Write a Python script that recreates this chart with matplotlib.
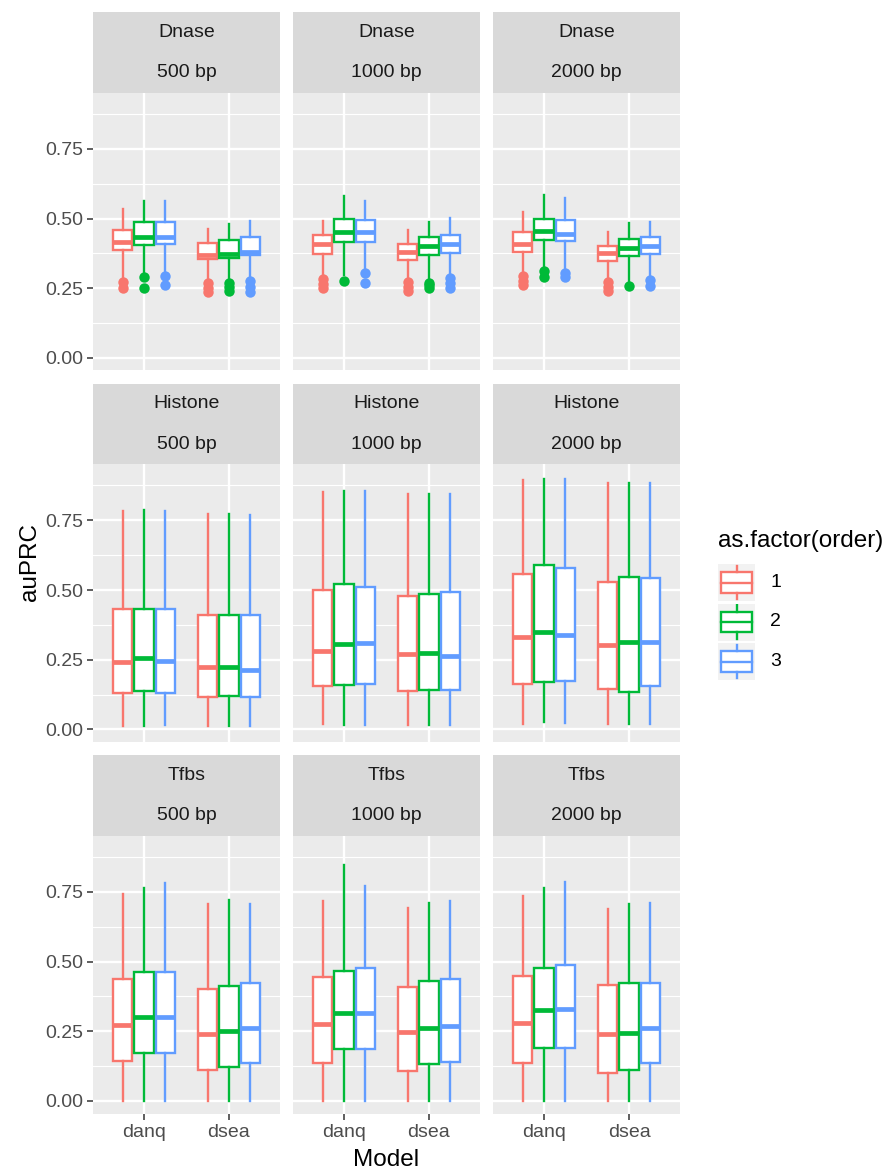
import numpy as np
import matplotlib
matplotlib.use("Agg")
import matplotlib.pyplot as plt
from matplotlib.patches import Rectangle

plt.rcParams['font.family'] = ['Liberation Sans', 'DejaVu Sans']

# facets / categories
assays = ["Dnase", "Histone", "Tfbs"]
lengths = ["500 bp", "1000 bp", "2000 bp"]
models = ["danq", "dsea"]
orders = ["1", "2", "3"]
colors = ["#F8766D", "#00BA38", "#619CFF"]

# box stats, indexed [length][model][order]
dnase_q1 = [[[0.386, 0.405, 0.408], [0.354, 0.360, 0.368]],
            [[0.374, 0.414, 0.417], [0.352, 0.368, 0.376]],
            [[0.381, 0.423, 0.420], [0.348, 0.366, 0.372]]]
dnase_med = [[[0.414, 0.432, 0.434], [0.370, 0.374, 0.381]],
             [[0.408, 0.450, 0.450], [0.380, 0.400, 0.410]],
             [[0.408, 0.456, 0.446], [0.376, 0.396, 0.402]]]
dnase_q3 = [[[0.458, 0.486, 0.489], [0.411, 0.423, 0.435]],
            [[0.441, 0.498, 0.495], [0.408, 0.434, 0.441]],
            [[0.450, 0.500, 0.495], [0.400, 0.428, 0.434]]]
dnase_lo = [[[0.288, 0.300, 0.306], [0.276, 0.282, 0.284]],
            [[0.288, 0.297, 0.312], [0.282, 0.280, 0.290]],
            [[0.300, 0.318, 0.318], [0.280, 0.270, 0.290]]]
dnase_hi = [[[0.534, 0.563, 0.563], [0.464, 0.480, 0.490]],
            [[0.492, 0.581, 0.561], [0.459, 0.489, 0.501]],
            [[0.525, 0.584, 0.575], [0.450, 0.483, 0.488]]]
dnase_out = [[[[0.274, 0.252], [0.290, 0.252], [0.294, 0.262]],
              [[0.267, 0.250, 0.235], [0.270, 0.255, 0.240], [0.275, 0.255, 0.235]]],
             [[[0.283, 0.265, 0.252], [0.276], [0.303, 0.270]],
              [[0.273, 0.255, 0.240], [0.270, 0.260, 0.250], [0.285, 0.268, 0.250]]],
             [[[0.293, 0.275, 0.262], [0.310, 0.290], [0.305, 0.290]],
              [[0.273, 0.255, 0.240], [0.258], [0.280, 0.258]]]]

histone_q1 = [[[0.131, 0.137, 0.131], [0.115, 0.121, 0.117]],
              [[0.155, 0.161, 0.163], [0.137, 0.140, 0.140]],
              [[0.164, 0.170, 0.175], [0.146, 0.135, 0.157]]]
histone_med = [[[0.242, 0.256, 0.246], [0.224, 0.224, 0.214]],
               [[0.283, 0.307, 0.310], [0.270, 0.274, 0.265]],
               [[0.330, 0.348, 0.339], [0.304, 0.313, 0.313]]]
histone_q3 = [[[0.431, 0.431, 0.431], [0.411, 0.411, 0.411]],
              [[0.500, 0.520, 0.512], [0.479, 0.486, 0.492]],
              [[0.557, 0.589, 0.580], [0.527, 0.545, 0.544]]]
histone_lo = [[[0.014, 0.012, 0.015], [0.012, 0.012, 0.014]],
              [[0.018, 0.015, 0.015], [0.015, 0.015, 0.015]],
              [[0.020, 0.026, 0.024], [0.020, 0.021, 0.020]]]
histone_hi = [[[0.783, 0.786, 0.782], [0.774, 0.774, 0.768]],
              [[0.851, 0.855, 0.855], [0.845, 0.843, 0.843]],
              [[0.895, 0.899, 0.899], [0.883, 0.883, 0.883]]]

tfbs_q1 = [[[0.143, 0.171, 0.171], [0.111, 0.123, 0.135]],
           [[0.137, 0.186, 0.186], [0.107, 0.131, 0.141]],
           [[0.135, 0.189, 0.189], [0.099, 0.111, 0.135]]]
tfbs_med = [[[0.274, 0.302, 0.302], [0.240, 0.251, 0.260]],
            [[0.276, 0.316, 0.314], [0.248, 0.263, 0.270]],
            [[0.278, 0.326, 0.329], [0.240, 0.245, 0.260]]]
tfbs_q3 = [[[0.437, 0.463, 0.463], [0.403, 0.412, 0.424]],
           [[0.445, 0.467, 0.475], [0.407, 0.431, 0.437]],
           [[0.449, 0.477, 0.487], [0.415, 0.424, 0.424]]]
tfbs_lo = [[[0.0, 0.0, 0.0], [0.0, 0.0, 0.0]],
           [[0.0, 0.0, 0.0], [0.0, 0.0, 0.0]],
           [[0.0, 0.0, 0.0], [0.0, 0.0, 0.0]]]
tfbs_hi = [[[0.743, 0.765, 0.783], [0.705, 0.720, 0.705]],
           [[0.716, 0.845, 0.770], [0.692, 0.711, 0.717]],
           [[0.734, 0.765, 0.785], [0.687, 0.705, 0.708]]]

stats = {
    "Dnase": (dnase_q1, dnase_med, dnase_q3, dnase_lo, dnase_hi, dnase_out),
    "Histone": (histone_q1, histone_med, histone_q3, histone_lo, histone_hi, None),
    "Tfbs": (tfbs_q1, tfbs_med, tfbs_q3, tfbs_lo, tfbs_hi, None),
}

W, H = 890, 1173
fig = plt.figure(figsize=(W / 100, H / 100), dpi=100)


def px_axes(x0, y0, w, h):
    return fig.add_axes([x0 / W, 1 - (y0 + h) / H, w / W, h / H])


col_x = [93, 293, 493]
panel_w = 187
row_y = [12, 383.5, 755]
strip_h = 40.5
panel_h = 277.5
lw_box = 1.7
grey30 = "#4D4D4D"

for r, assay in enumerate(assays):
    q1, med, q3, lo, hi, out = stats[assay]
    for c, length in enumerate(lengths):
        x0 = col_x[c]
        y0 = row_y[r]
        # two strips
        for k, label in enumerate([assay, length]):
            sa = px_axes(x0, y0 + k * strip_h, panel_w, strip_h)
            sa.set_facecolor("#D9D9D9")
            sa.set_xticks([])
            sa.set_yticks([])
            for s in sa.spines.values():
                s.set_visible(False)
            sa.text(0.5, 0.5, label, ha="center", va="center", fontsize=14,
                    color="#1A1A1A", transform=sa.transAxes)
        ax = px_axes(x0, y0 + 2 * strip_h, panel_w, panel_h)
        ax.set_facecolor("#EBEBEB")
        for s in ax.spines.values():
            s.set_visible(False)
        ax.set_axisbelow(True)
        for m in range(len(models)):
            for o in range(len(orders)):
                d = dict(q1=q1[c][m][o], med=med[c][m][o], q3=q3[c][m][o],
                         whislo=lo[c][m][o], whishi=hi[c][m][o],
                         fliers=out[c][m][o] if out else [])
                col = colors[o]
                ax.bxp([d], positions=[m + 1 + (o - 1) * 0.25], widths=0.225,
                       patch_artist=True, showcaps=False,
                       boxprops=dict(facecolor="white", edgecolor=col, linewidth=lw_box),
                       medianprops=dict(color=col, linewidth=3.4, solid_capstyle="butt"),
                       whiskerprops=dict(color=col, linewidth=lw_box),
                       flierprops=dict(marker="o", markerfacecolor=col,
                                       markeredgecolor="none", markersize=7.5),
                       manage_ticks=False)
        ax.set_xlim(0.4, 2.6)
        ax.set_ylim(-0.045, 0.95)
        ax.set_yticks([0, 0.25, 0.5, 0.75])
        ax.set_yticks([0.125, 0.375, 0.625, 0.875], minor=True)
        ax.set_xticks([1, 2])
        ax.grid(which="major", color="white", linewidth=1.7)
        ax.grid(which="minor", color="white", linewidth=0.85)
        ax.tick_params(which="minor", length=0)
        ax.tick_params(which="major", length=4.3, width=1.1, color="#333333",
                       labelsize=14, labelcolor=grey30, pad=3)
        if c == 0:
            ax.set_yticklabels(["0.00", "0.25", "0.50", "0.75"])
        else:
            ax.tick_params(axis="y", length=0, labelleft=False)
        if r == 2:
            ax.set_xticklabels(models)
        else:
            ax.tick_params(axis="x", length=0, labelbottom=False)

# axis titles
fig.text(30 / W, 1 - 562 / H, "auPRC", rotation=90, ha="center", va="center",
         fontsize=17.5, color="black")
fig.text(386.5 / W, 1 - 1160 / H, "Model", ha="center", va="center",
         fontsize=17.5, color="black")

# legend
fig.text(718 / W, 1 - 541 / H, "as.factor(order)", ha="left", va="center",
         fontsize=17.5, color="black")
for i, lab in enumerate(orders):
    ky = 564 + i * 39.5
    ka = px_axes(718, ky, 37, 37)
    ka.set_xlim(0, 1)
    ka.set_ylim(0, 1)
    ka.set_facecolor("#F2F2F2")
    ka.set_xticks([])
    ka.set_yticks([])
    for s in ka.spines.values():
        s.set_visible(False)
    ka.plot([0.5, 0.5], [0.05, 0.22], color=colors[i], lw=lw_box)
    ka.plot([0.5, 0.5], [0.78, 0.95], color=colors[i], lw=lw_box)
    ka.add_patch(Rectangle((0.08, 0.22), 0.84, 0.56, facecolor="white",
                           edgecolor=colors[i], lw=lw_box))
    ka.plot([0.08, 0.92], [0.5, 0.5], color=colors[i], lw=lw_box)
    fig.text(770 / W, 1 - (ky + 18.5) / H, lab, ha="left", va="center",
             fontsize=14, color="black")

fig.savefig("out.png", dpi=100, facecolor="white")
